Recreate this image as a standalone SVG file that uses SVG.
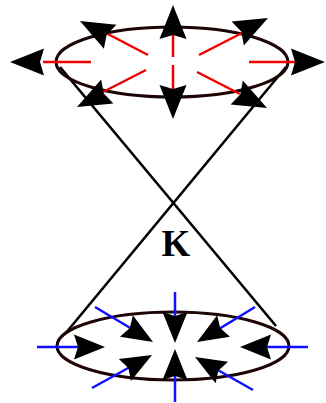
<svg xmlns="http://www.w3.org/2000/svg" width="326" height="403" viewBox="0 0 326 403">
<style>
.ell{fill:none;stroke:#1e0505;stroke-width:3}
.cone{stroke:#000;stroke-width:2.6;fill:none}
.red{stroke:#f00000;stroke-width:2.5}
.blue{stroke:#1010ff;stroke-width:2.5}
.k{font-family:"Liberation Serif","DejaVu Serif",serif;font-weight:bold;font-size:37px;fill:#000}
</style>
<defs>
<path id="ah" d="M0,0 L-34,-13.5 L-30,0 L-34,13.5 Z" fill="#000"/>
<path id="ahs" d="M0,0 L-31,-12.5 L-27,0 L-31,12.5 Z" fill="#000"/>
</defs>
<rect width="326" height="403" fill="#fff"/>
<g id="connectors">
<line class="cone" x1="60" y1="67" x2="276" y2="326"/>
<line class="cone" x1="286" y1="67" x2="65" y2="334"/>
</g>
<g id="top-ellipse">
<ellipse class="ell" cx="172" cy="62" rx="116" ry="35"/>
<line class="red" x1="43" y1="62" x2="91" y2="62"/>
<line class="red" x1="249" y1="62" x2="298" y2="62"/>
<line class="red" x1="173" y1="30" x2="173" y2="57"/>
<line class="red" x1="173" y1="65" x2="173" y2="92"/>
<line class="red" x1="148" y1="55" x2="104" y2="32"/>
<line class="red" x1="199" y1="55" x2="244" y2="32"/>
<line class="red" x1="146" y1="70" x2="101" y2="93"/>
<line class="red" x1="197" y1="72" x2="240" y2="94"/>
<use href="#ah" transform="translate(10,62) rotate(180)"/>
<use href="#ah" transform="translate(325,62)"/>
<use href="#ah" transform="translate(173,5) rotate(-90)"/>
<use href="#ah" transform="translate(173,119) rotate(90)"/>
<use href="#ah" transform="translate(80,21) rotate(207.6)"/>
<use href="#ah" transform="translate(268,18) rotate(-27)"/>
<use href="#ah" transform="translate(77,107) rotate(153)"/>
<use href="#ah" transform="translate(267,108) rotate(27)"/>
</g>
<g id="label-K">
<text class="k" x="176" y="256" text-anchor="middle">K</text>
</g>
<g id="bottom-ellipse">
<ellipse class="ell" cx="173" cy="346" rx="116" ry="34"/>
<line class="blue" x1="37" y1="347" x2="80" y2="347"/>
<line class="blue" x1="308" y1="347" x2="266" y2="347"/>
<line class="blue" x1="175" y1="292" x2="175" y2="318"/>
<line class="blue" x1="175" y1="402" x2="175" y2="375"/>
<line class="blue" x1="95" y1="307" x2="132" y2="329"/>
<line class="blue" x1="255" y1="307" x2="219" y2="329"/>
<line class="blue" x1="92" y1="388" x2="130" y2="367"/>
<line class="blue" x1="253" y1="390" x2="216" y2="369"/>
<use href="#ahs" transform="translate(105,347)"/>
<use href="#ahs" transform="translate(240,347) rotate(180)"/>
<use href="#ahs" transform="translate(175,343) rotate(90)"/>
<use href="#ahs" transform="translate(175,349) rotate(-90)"/>
<use href="#ahs" transform="translate(153,342) rotate(31)"/>
<use href="#ahs" transform="translate(197,342) rotate(149)"/>
<use href="#ahs" transform="translate(152,355) rotate(-29)"/>
<use href="#ahs" transform="translate(195,357) rotate(210)"/>
</g>
</svg>
